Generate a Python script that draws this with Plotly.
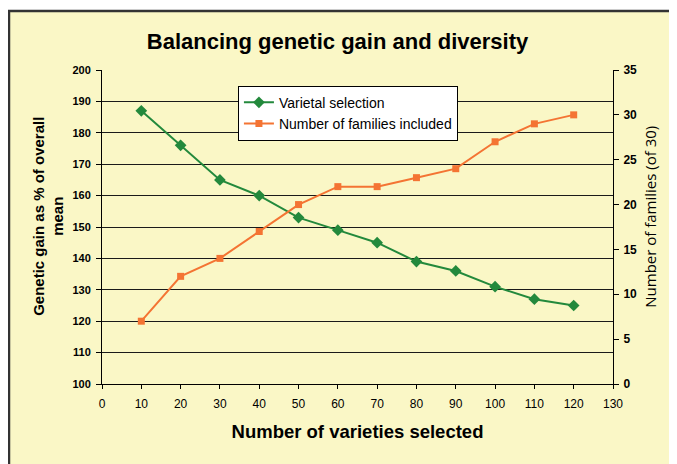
import plotly.graph_objects as go

# data
varieties = [10, 20, 30, 40, 50, 60, 70, 80, 90, 100, 110, 120]
genetic_gain = [187, 176, 165, 160, 153, 149, 145, 139, 136, 131, 127, 125]
families = [7, 12, 14, 17, 20, 22, 22, 23, 24, 27, 29, 30]

gain_ticks = list(range(100, 201, 10))
family_ticks = list(range(0, 36, 5))

fig = go.Figure()

fig.add_trace(go.Scatter(name="Varietal selection", x=varieties, y=genetic_gain,
                         mode="lines+markers",
                         line=dict(color="#23893C", width=2),
                         marker=dict(symbol="diamond", size=9, color="#23893C")))
fig.add_trace(go.Scatter(name="Number of families included", x=varieties, y=families,
                         mode="lines+markers", yaxis="y2",
                         line=dict(color="#F47433", width=2),
                         marker=dict(symbol="square", size=7, color="#F47433")))

# cream panel with dark border behind everything
fig.add_shape(type="rect", xref="paper", yref="paper", layer="below",
              x0=-0.182, x1=1.2, y0=-0.35, y1=1.188,
              fillcolor="#FAF7C6", line=dict(color="#333333", width=2.5))

# y axis titles as annotations so they sit where the reference has them
fig.add_annotation(text="<b>Genetic gain as % of overall<br>mean</b>",
                   xref="paper", yref="paper", x=-0.106, y=0.535,
                   xanchor="center", yanchor="middle",
                   textangle=-90, showarrow=False, font=dict(size=15))
fig.add_annotation(text="Number of families (of 30)",
                   xref="paper", yref="paper", x=1.072, y=0.532,
                   xanchor="center", yanchor="middle",
                   textangle=-90, showarrow=False,
                   font=dict(size=15, family="Open Sans"))

# page body adds 8px offset, so margins are shifted by 8px
fig.update_layout(
    width=677, height=464,
    margin=dict(l=94, r=72, t=62, b=88, autoexpand=False),
    paper_bgcolor="white",
    plot_bgcolor="#8EC0E8",
    font=dict(family="Arial, Liberation Sans", color="black"),
    title=dict(text="<b>Balancing genetic gain and diversity</b>",
               x=0.4867, xanchor="center", y=0.929, yanchor="middle",
               font=dict(size=22), automargin=False),
    showlegend=True,
    legend=dict(x=0.266, y=0.95, xanchor="left", yanchor="top",
                bgcolor="white", bordercolor="black", borderwidth=1,
                font=dict(size=14), tracegroupgap=0, itemwidth=30),
    xaxis=dict(range=[0, 130], dtick=10, showgrid=False, zeroline=False,
               ticks="outside", ticklen=4, tickcolor="black", automargin=False,
               ticklabelstandoff=5,
               showline=True, linecolor="black", linewidth=1,
               tickfont=dict(size=12),
               title=dict(text="<b>Number of varieties selected</b>",
                          font=dict(size=18.5), standoff=14)),
    yaxis=dict(range=[100, 200], tickvals=gain_ticks,
               ticktext=["<b>%d</b>" % v for v in gain_ticks],
               showgrid=True, gridcolor="#1a1a1a", gridwidth=1, zeroline=False,
               ticks="outside", ticklen=5, tickcolor="black", automargin=False,
               ticklabelstandoff=3,
               showline=True, linecolor="black", linewidth=1,
               tickfont=dict(size=11)),
    yaxis2=dict(range=[0, 35], tickvals=family_ticks,
                ticktext=["<b>%d</b>" % v for v in family_ticks],
                overlaying="y", side="right",
                showgrid=False, zeroline=False, automargin=False,
                ticks="outside", ticklen=5, tickcolor="black",
                ticklabelstandoff=2,
                showline=True, linecolor="black", linewidth=1,
                tickfont=dict(size=12)),
)

fig.write_html("out.html")
